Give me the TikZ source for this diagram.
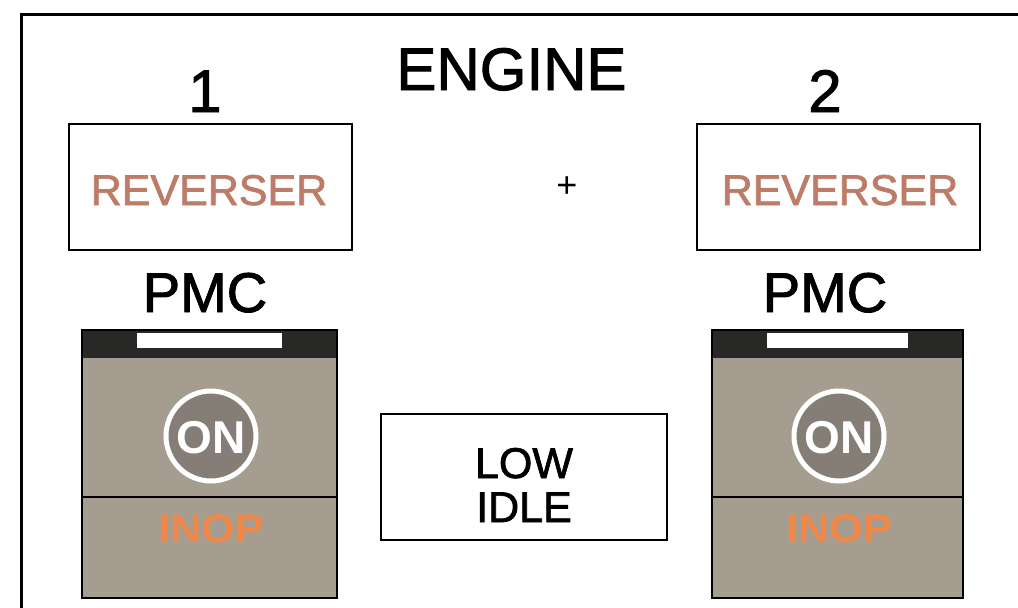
\documentclass[tikz,border=0pt]{standalone}
\usepackage{fontspec}
\setmainfont{Liberation Sans}
\newfontfamily\heavyfont[FakeBold=1.6]{Liberation Sans}
\definecolor{revcol}{RGB}{188,124,104}
\definecolor{btngray}{RGB}{166,157,145}
\definecolor{ringfill}{RGB}{132,126,119}
\definecolor{inopcol}{RGB}{240,136,74}
\definecolor{bardark}{RGB}{40,40,38}
\tikzset{
  lbl/.style={anchor=base, inner sep=0pt, text=black},
  panelbox/.style={draw=black, line width=2.5pt, fill=white, inner sep=0pt},
  btnbox/.style={draw=black, line width=2.5pt, fill=btngray, inner sep=0pt},
  onring/.style={circle, draw=white, line width=5pt, fill=ringfill, inner sep=0pt, minimum size=90pt},
  bigfont/.style={font=\heavyfont\fontsize{60}{60}\selectfont},
  pmcfont/.style={font=\heavyfont\fontsize{56}{56}\selectfont},
  revfont/.style={font=\heavyfont\fontsize{43}{44}\selectfont},
}
\begin{document}
\begin{tikzpicture}[x=1pt,y=-1pt]
\useasboundingbox (0,0) rectangle (1018,608);
\fill[white] (0,0) rectangle (1018,608);
% outer frame
\coordinate (fbl) at (21,612);
\coordinate (ftl) at (21,14);
\coordinate (ftr) at (1022,14);
\draw[line width=3pt] (fbl) -- (ftl) -- (ftr);

% titles
\node[lbl, bigfont] (engine) at (511.5,90) {ENGINE};
\node[lbl, bigfont] (num1) at (205,112) {1};
\node[lbl, bigfont] (num2) at (825,112) {2};
\node[lbl, font=\fontsize{36}{36}\selectfont] (plus) at (567,197) {+};

% reverser boxes
\node[panelbox, minimum width=283pt, minimum height=126pt] (rev1) at (210.5,187) {};
\node[panelbox, minimum width=283pt, minimum height=126pt] (rev2) at (838.5,187) {};
\node[lbl, revfont, text=revcol] (revtxt1) at (209,205) {REVERSER};
\node[lbl, revfont, text=revcol] (revtxt2) at (840,205) {REVERSER};

% PMC labels
\node[lbl, pmcfont] (pmc1) at (205,312) {PMC};
\node[lbl, pmcfont] (pmc2) at (825,312) {PMC};

% PMC buttons
\foreach \i/\l/\r/\cx/\sl/\sr in {1/82/337/211/137/282, 2/712/963/839/767/908}{
  \node[btnbox, minimum width=\r pt-\l pt, minimum height=268pt] (btn\i) at ({(\l+\r)/2},464) {};
  \fill[bardark] (\l,330) rectangle (\r,358);
  \fill[white] (\sl,333) rectangle (\sr,348);
  \draw[line width=2.5pt] (\l,330) rectangle (\r,598);
  \draw[line width=2.5pt] (\l,497) -- (\r,497);
  \node[onring] (ring\i) at (\cx,436) {};
  \node[lbl, font=\bfseries\fontsize{46}{46}\selectfont, text=white] (on\i) at (\cx,453) {ON};
  \node[lbl, font=\bfseries\fontsize{40}{40}\selectfont, text=inopcol, xscale=1.08] (inop\i) at (\cx,542) {INOP};
}

% low idle
\node[panelbox, minimum width=286pt, minimum height=126pt] (lowidle) at (524,477) {};
\node[lbl, revfont] (low) at (524,478) {LOW};
\node[lbl, revfont] (idle) at (524,522) {IDLE};
\end{tikzpicture}
\end{document}
